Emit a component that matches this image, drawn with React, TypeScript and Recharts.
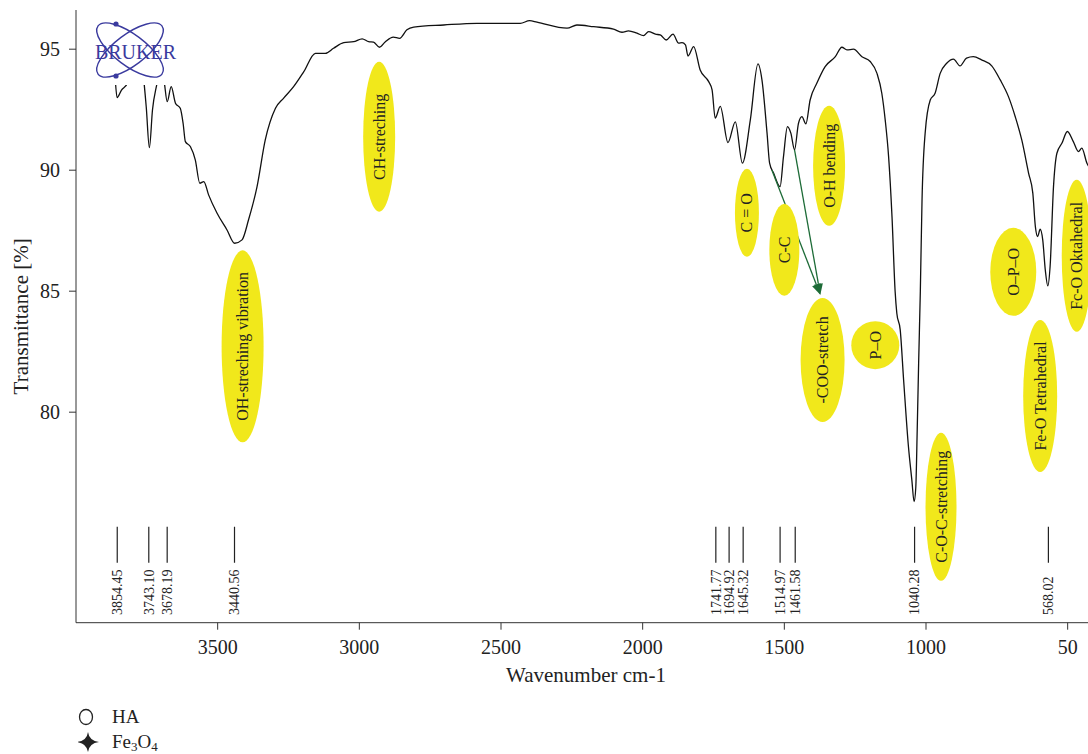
import React from "react";
import { ComposedChart, Line, Scatter, XAxis, YAxis, ReferenceLine } from "recharts";

// FTIR spectrum (wavenumber cm-1 / transmittance %)
const wavenumbers = [
  3880, 3865, 3855, 3840, 3818, 3800, 3780, 3765, 3752, 3741, 3730, 3714, 3700, 3688, 3678,
  3664, 3649, 3632, 3622, 3614, 3596, 3579, 3563, 3549, 3532, 3502, 3467, 3440, 3414, 3391,
  3361, 3332, 3296, 3267, 3232, 3196, 3155, 3120, 3091, 3055, 3020, 2990, 2967, 2950, 2929,
  2908, 2880, 2858, 2832, 2808, 2702, 2585, 2432, 2399, 2373, 2267, 2232, 2173, 2103, 2073,
  2050, 2020, 1997, 1979, 1955, 1938, 1917, 1893, 1873, 1861, 1849, 1840, 1820, 1797, 1767,
  1755, 1744, 1726, 1699, 1673, 1648, 1620, 1593, 1579, 1561, 1552, 1538, 1515, 1503, 1489,
  1477, 1464, 1450, 1438, 1424, 1409, 1385, 1356, 1320, 1297, 1279, 1256, 1226, 1197, 1173,
  1156, 1144, 1132, 1120, 1109, 1103, 1091, 1079, 1062, 1050, 1042, 1036, 1031, 1026, 1020,
  1014, 1003, 985, 968, 950, 927, 903, 880, 857, 833, 804, 768, 738, 709, 685,
  662, 638, 623, 614, 606, 597, 588, 579, 570, 562, 550, 538, 520, 501, 480,
  462, 450, 432, 415, 400,
];
const transmittance = [
  95.4, 94.3, 93.0, 93.3, 93.6, 95.0, 95.3, 94.2, 92.6, 90.93, 92.5, 93.6, 94.5, 93.6, 92.83,
  93.45, 92.77, 92.56, 91.94, 91.18, 90.97, 90.43, 89.46, 89.53, 88.98, 88.22, 87.53, 86.98, 87.12, 87.95,
  89.32, 91.25, 92.56, 92.98, 93.45, 94.07, 94.83, 94.83, 95.04, 95.27, 95.31, 95.43, 95.31, 95.29, 95.08,
  95.31, 95.5, 95.45, 95.8, 95.91, 96.0, 96.07, 96.07, 96.18, 96.12, 95.87, 96.0, 95.93, 95.83, 95.7,
  95.76, 95.66, 95.56, 95.73, 95.62, 95.59, 95.38, 95.62, 95.25, 95.27, 95.18, 94.72, 95.11, 94.14, 93.66,
  93.32, 92.15, 92.64, 91.14, 92.0, 90.29, 92.08, 94.39, 93.73, 91.53, 90.29, 89.88, 89.32, 90.56, 91.8,
  91.53, 90.84, 91.94, 92.21, 91.91, 92.9, 93.6, 94.28, 94.69, 95.08, 94.97, 95.0, 94.69, 94.49, 94.0,
  93.18, 92.08, 90.56, 88.08, 85.0, 84.09, 83.4, 81.33, 78.58, 77.2, 76.3, 76.9, 79.27, 82.02, 85.0,
  88.77, 91.53, 92.9, 93.18, 94.0, 94.42, 94.59, 94.31, 94.63, 94.69, 94.56, 94.31, 93.73, 93.04, 92.21,
  91.25, 89.88, 89.05, 87.67, 87.26, 87.56, 87.12, 85.88, 85.22, 86.02, 89.32, 90.7, 91.12, 91.6, 91.18,
  90.77, 90.91, 90.29, 90.0, 89.9,
];

const peakPositions = [3854.45, 3743.1, 3678.19, 3440.56, 1741.77, 1694.92, 1645.32, 1514.97, 1461.58, 1040.28, 568.02];
const peakLabels = ["3854.45", "3743.10", "3678.19", "3440.56", "1741.77", "1694.92", "1645.32", "1514.97", "1461.58", "1040.28", "568.02"];
const peakLevel = 75.26;

const bandLabels = [
  "OH-streching vibration", "CH-streching", "C = O", "C-C", "O-H bending", "-COO-stretch",
  "P–O", "C-O-C-stretching", "Fe-O Tetrahedral", "O–P–O", "Fc-O Oktahedral",
];
const bandWavenumbers = [3412, 2930, 1632, 1500, 1342, 1365, 1179, 947, 597, 692, 468];
const bandLevels = [82.72, 91.38, 88.24, 86.71, 90.18, 82.16, 82.77, 76.09, 80.67, 85.8, 86.46];
// ellipse radii in px (style, kept apart from the values)
const bandSize = [[21, 96], [16, 75], [12, 44], [15, 46], [16, 60], [22, 62], [24, 24], [15.5, 74], [17, 76], [23, 44], [15, 76]];

const arrowStarts = [[1544, 90.01], [1464, 90.84]];
const arrowEnd = [1373, 84.85];

const xTicks = [3500, 3000, 2500, 2000, 1500, 1000, 500];
const xTickLabels = ["3500", "3000", "2500", "2000", "1500", "1000", "50"];
const yTicks = [80, 85, 90, 95];

const spectrum = wavenumbers.map((wn, i) => ({ wn, t: transmittance[i] }));
const peaks = peakPositions.map((wn, i) => ({ wn, t: peakLevel, label: peakLabels[i] }));
const bands = bandLabels.map((label, i) => ({ wn: bandWavenumbers[i], t: bandLevels[i], label, i }));

const FONT = '"Liberation Serif", "DejaVu Serif", serif';
const YELLOW = "#f1e81b";
const GREEN = "#1d6b37";
const INK = "#222";

const PeakMark = (props: any) => {
  const { cx, cy, payload } = props;
  return (
    <g>
      <line x1={cx} y1={cy} x2={cx} y2={cy + 36} stroke={INK} strokeWidth={1.2} />
      <text
        x={cx}
        y={cy + 88}
        dy="0.35em"
        fontSize={14}
        fill={INK}
        transform={`rotate(-90 ${cx} ${cy + 88})`}
      >
        {payload.label}
      </text>
    </g>
  );
};

const BandMark = (props: any) => {
  const { cx, cy, payload } = props;
  const [rx, ry] = bandSize[payload.i];
  return (
    <g>
      <ellipse cx={cx} cy={cy} rx={rx} ry={ry} fill={YELLOW} />
      <text
        x={cx}
        y={cy}
        textAnchor="middle"
        dominantBaseline="central"
        fontSize={16}
        fill={INK}
        transform={`rotate(-90 ${cx} ${cy})`}
      >
        {payload.label}
      </text>
    </g>
  );
};

const Arrow = (props: any) => {
  const { x1, y1, x2, y2 } = props;
  const a = Math.atan2(y2 - y1, x2 - x1);
  const len = 11;
  const w = 4.5;
  const bx = x2 - len * Math.cos(a);
  const by = y2 - len * Math.sin(a);
  const pts = `${x2},${y2} ${bx + w * Math.sin(a)},${by - w * Math.cos(a)} ${bx - w * Math.sin(a)},${by + w * Math.cos(a)}`;
  return (
    <g>
      <line x1={x1} y1={y1} x2={bx} y2={by} stroke={GREEN} strokeWidth={1.3} />
      <polygon points={pts} fill={GREEN} />
    </g>
  );
};

const Logo = () => (
  <svg width={104} height={74} style={{ position: "absolute", left: 78, top: 11 }}>
    <rect x={0} y={0} width={104} height={74} fill="#fff" />
    <g fill="none" stroke="#3a3a9e" strokeWidth={1.4}>
      <ellipse cx={52} cy={39} rx={40} ry={15.5} transform="rotate(37 52 39)" />
      <ellipse cx={52} cy={39} rx={40} ry={15.5} transform="rotate(-37 52 39)" />
    </g>
    <circle cx={38} cy={13} r={2.6} fill="#3a3a9e" />
    <circle cx={38} cy={65} r={2.6} fill="#3a3a9e" />
    <text x={57.5} y={48} textAnchor="middle" fontSize={20} fill="#3a3a9e" fontFamily={FONT}>
      BRUKER
    </text>
  </svg>
);

const subStyle = { fontSize: 13, lineHeight: 0, verticalAlign: "-0.2em" };

export default function App() {
  return (
    <div
      style={{
        position: "fixed",
        left: 0,
        top: 0,
        width: 1088,
        height: 754,
        overflow: "hidden",
        background: "#fff",
        fontFamily: FONT,
        color: INK,
      }}
    >
      <div style={{ position: "absolute", left: 8, top: 8 }}>
        <ComposedChart
          width={1100}
          height={700}
          data={spectrum}
          margin={{ top: 2, right: 12, bottom: 0, left: 8 }}
          style={{ fontFamily: FONT }}
        >
          <XAxis
            dataKey="wn"
            type="number"
            domain={[400, 4000]}
            reversed
            allowDataOverflow
            ticks={xTicks}
            tickFormatter={(v: number) => xTickLabels[xTicks.indexOf(v)] ?? String(v)}
            height={85.3}
            tickSize={7}
            tickMargin={10}
            stroke="#333"
            tick={{ fill: INK, fontSize: 20 }}
            label={(p: any) => {
              const vb = p.viewBox;
              return (
                <text x={vb.x + vb.width / 2} y={vb.y + 52} textAnchor="middle" dominantBaseline="central" fontSize={21} fill={INK}>
                  Wavenumber cm-1
                </text>
              );
            }}
          />
          <XAxis xAxisId="top" orientation="top" dataKey="wn" type="number" domain={[400, 4000]} reversed height={0} tick={false} tickLine={false} stroke="#333" />
          <YAxis
            type="number"
            domain={[71.3, 96.62]}
            allowDataOverflow
            ticks={yTicks}
            width={60}
            tickSize={7}
            tickMargin={9}
            stroke="#333"
            tick={{ fill: INK, fontSize: 20 }}
            label={(p: any) => {
              const vb = p.viewBox;
              const cy = vb.y + vb.height / 2;
              return (
                <text x={13} y={cy} textAnchor="middle" dominantBaseline="central" fontSize={21} fill={INK} transform={`rotate(-90 13 ${cy})`}>
                  Transmittance [%]
                </text>
              );
            }}
          />
          <Line
            dataKey="t"
            type="monotone"
            stroke="#111"
            strokeWidth={1.3}
            dot={false}
            activeDot={false}
            isAnimationActive={false}
          />
          <Scatter data={peaks} dataKey="t" shape={PeakMark} isAnimationActive={false} />
          <Scatter data={bands} dataKey="t" shape={BandMark} isAnimationActive={false} />
          {arrowStarts.map(([wn, t], i) => (
            <ReferenceLine
              key={i}
              segment={[{ x: wn, y: t }, { x: arrowEnd[0], y: arrowEnd[1] }]}
              shape={Arrow}
              ifOverflow="visible"
            />
          ))}
        </ComposedChart>
      </div>
      <Logo />
      <div style={{ position: "absolute", left: 78, top: 704, fontSize: 19, lineHeight: "25px" }}>
        <div style={{ display: "flex", alignItems: "center" }}>
          <svg width={24} height={22}>
            <ellipse cx={8} cy={11} rx={6.5} ry={7.5} fill="none" stroke={INK} strokeWidth={1.3} />
          </svg>
          <span style={{ marginLeft: 10 }}>HA</span>
        </div>
        <div style={{ display: "flex", alignItems: "center" }}>
          <svg width={24} height={22}>
            <path d="M10 1 Q11.2 9.8 21 11 Q11.2 12.2 10 21 Q8.8 12.2 -1 11 Q8.8 9.8 10 1 Z" fill={INK} />
          </svg>
          <span style={{ marginLeft: 10 }}>
            Fe<sub style={subStyle}>3</sub>O<sub style={subStyle}>4</sub>
          </span>
        </div>
      </div>
    </div>
  );
}
